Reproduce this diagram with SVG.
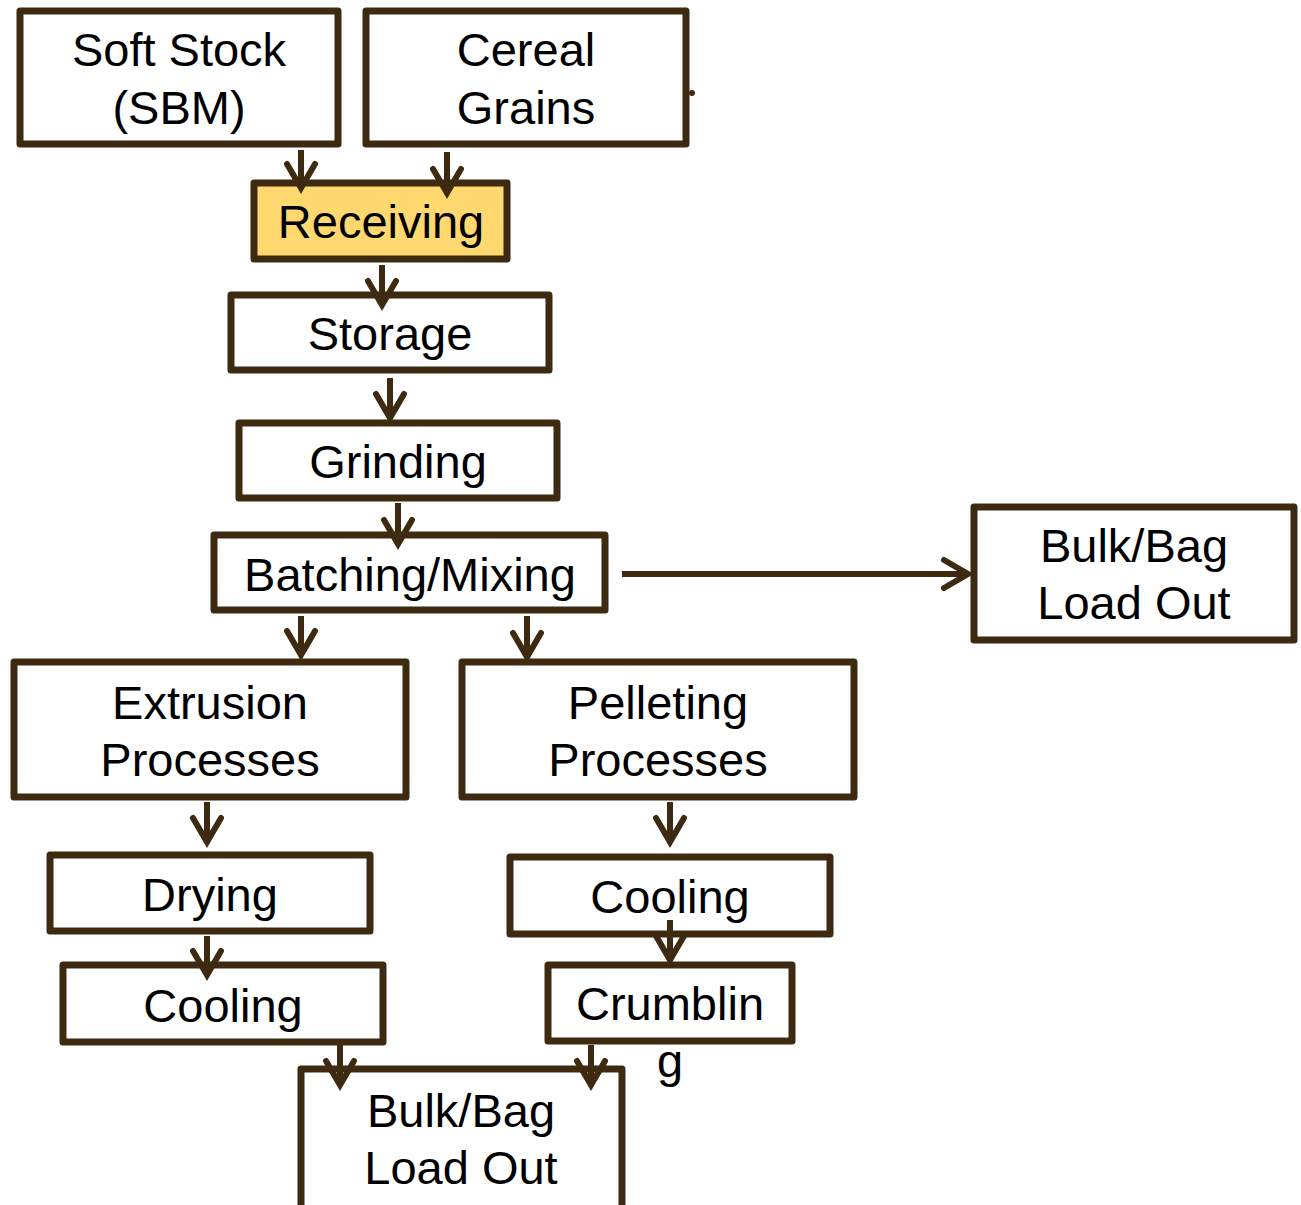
<svg xmlns="http://www.w3.org/2000/svg" width="1301" height="1205" viewBox="0 0 1301 1205">
<defs>
<style>
.box{fill:#ffffff;stroke:#3d2a10;stroke-width:7;stroke-linejoin:round}
.hl{fill:#ffd970}
.t{font-family:"Liberation Sans",Arial,sans-serif;font-size:47px;fill:#000;text-anchor:middle}
.c{stroke:#3d2a10;stroke-width:6;fill:none}
</style>
<marker id="ah" markerUnits="userSpaceOnUse" markerWidth="50" markerHeight="50" viewBox="-30 -25 50 50" refX="0" refY="0" orient="auto" overflow="visible">
<path d="M-24,-14 L0,0 L-24,14" fill="none" stroke="#3d2a10" stroke-width="6" stroke-linecap="round" stroke-linejoin="miter"/>
</marker>
</defs>
<rect width="1301" height="1205" fill="#ffffff"/>
<g id="soft-stock"><rect class="box" x="20" y="11" width="318" height="133"/><text class="t" x="179" y="66">Soft Stock</text><text class="t" x="179" y="124">(SBM)</text></g>
<g id="cereal-grains"><rect class="box" x="366" y="11" width="320" height="133"/><text class="t" x="526" y="66">Cereal</text><text class="t" x="526" y="124">Grains</text><circle cx="692" cy="93" r="3" fill="#3d2a10"/></g>
<g id="receiving"><rect class="box hl" x="254" y="183" width="253" height="76"/><text class="t" x="381" y="238">Receiving</text></g>
<g id="storage"><rect class="box" x="231" y="295" width="318" height="75"/><text class="t" x="390" y="350">Storage</text></g>
<g id="grinding"><rect class="box" x="239" y="423" width="318" height="75"/><text class="t" x="398" y="478">Grinding</text></g>
<g id="batching"><rect class="box" x="214" y="535" width="391" height="75"/><text class="t" x="410" y="591">Batching/Mixing</text></g>
<g id="bulk-right"><rect class="box" x="974" y="507" width="320" height="133"/><text class="t" x="1134" y="562">Bulk/Bag</text><text class="t" x="1134" y="619">Load Out</text></g>
<g id="extrusion"><rect class="box" x="14" y="662" width="392" height="135"/><text class="t" x="210" y="719">Extrusion</text><text class="t" x="210" y="776">Processes</text></g>
<g id="pelleting"><rect class="box" x="462" y="662" width="392" height="135"/><text class="t" x="658" y="719">Pelleting</text><text class="t" x="658" y="776">Processes</text></g>
<g id="drying"><rect class="box" x="50" y="855" width="320" height="76"/><text class="t" x="210" y="911">Drying</text></g>
<g id="cooling-right"><rect class="box" x="510" y="857" width="320" height="77"/><text class="t" x="670" y="913">Cooling</text></g>
<g id="cooling-left"><rect class="box" x="63" y="965" width="320" height="77"/><text class="t" x="223" y="1022">Cooling</text></g>
<g id="crumbling"><rect class="box" x="548" y="965" width="244" height="76"/><text class="t" x="670" y="1020">Crumblin</text><text class="t" x="670" y="1077">g</text></g>
<g id="bulk-bottom"><rect class="box" x="301" y="1069" width="321" height="145"/><text class="t" x="461" y="1127">Bulk/Bag</text><text class="t" x="461" y="1184">Load Out</text></g>
<g id="connectors">
<line class="c" x1="301" y1="150" x2="301" y2="188" marker-end="url(#ah)"/>
<line class="c" x1="447" y1="152" x2="447" y2="193" marker-end="url(#ah)"/>
<line class="c" x1="382" y1="265" x2="382" y2="305" marker-end="url(#ah)"/>
<line class="c" x1="390" y1="378" x2="390" y2="418" marker-end="url(#ah)"/>
<line class="c" x1="398" y1="503" x2="398" y2="544" marker-end="url(#ah)"/>
<line class="c" x1="622" y1="574" x2="968" y2="574" marker-end="url(#ah)"/>
<line class="c" x1="301" y1="616" x2="301" y2="655" marker-end="url(#ah)"/>
<line class="c" x1="527" y1="616" x2="527" y2="657" marker-end="url(#ah)"/>
<line class="c" x1="207" y1="802" x2="207" y2="842" marker-end="url(#ah)"/>
<line class="c" x1="670" y1="802" x2="670" y2="842" marker-end="url(#ah)"/>
<line class="c" x1="207" y1="936" x2="207" y2="975" marker-end="url(#ah)"/>
<line class="c" x1="670" y1="920" x2="670" y2="960" marker-end="url(#ah)"/>
<line class="c" x1="340" y1="1045" x2="340" y2="1085" marker-end="url(#ah)"/>
<line class="c" x1="591" y1="1045" x2="591" y2="1085" marker-end="url(#ah)"/>
</g>
</svg>
